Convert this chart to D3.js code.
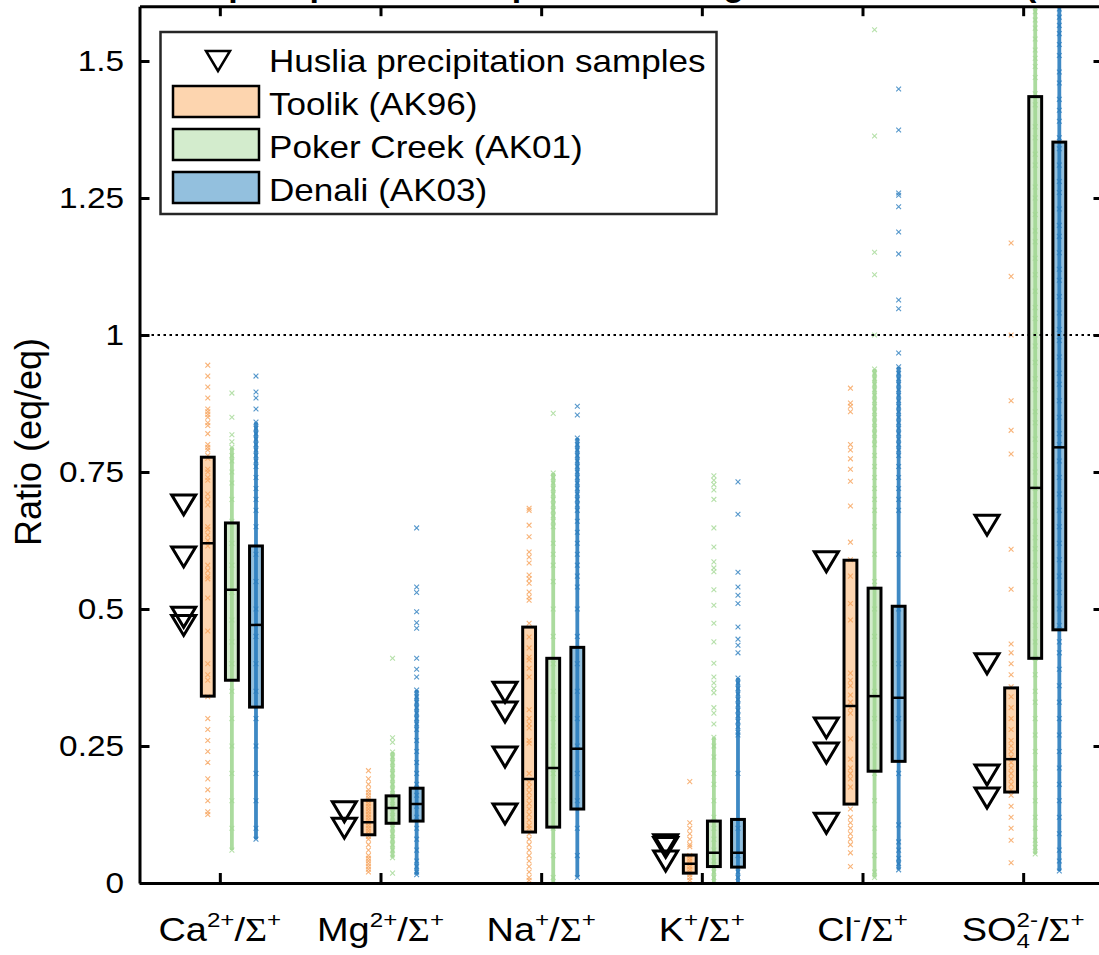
<!DOCTYPE html>
<html>
<head>
<meta charset="utf-8">
<script src="https://cdn.jsdelivr.net/npm/d3@7"></script>
<style>
  body { margin: 0; background: #fff; }
  svg { display: block; }
  text { font-family: "Liberation Sans", Arial, sans-serif; fill: #000; }
</style>
</head>
<body>
<svg width="1099" height="955"></svg>
<script>
// ---- data ----
var categories = ["Ca", "Mg", "Na", "K", "Cl", "SO4"];
var yTicks = [0, 0.25, 0.5, 0.75, 1, 1.25, 1.5];
var yTickLabels = ["0", "0.25", "0.5", "0.75", "1", "1.25", "1.5"];
var siteNames = ["Toolik (AK96)", "Poker Creek (AK01)", "Denali (AK03)"];

// Huslia precipitation samples (triangles)
var huslia = [
  [0.69, 0.595, 0.485, 0.47],
  [0.13, 0.10],
  [0.348, 0.312, 0.23, 0.126],
  [0.07, 0.065, 0.04],
  [0.586, 0.283, 0.237, 0.109],
  [0.653, 0.40, 0.197, 0.155]
];

// box statistics
var toolikQ1  = [0.341, 0.088, 0.093, 0.018, 0.144, 0.166];
var toolikMed = [0.62, 0.111, 0.19, 0.035, 0.323, 0.226];
var toolikQ3  = [0.777, 0.151, 0.467, 0.051, 0.589, 0.356];
var pokerQ1   = [0.37, 0.109, 0.102, 0.03, 0.204, 0.41];
var pokerMed  = [0.535, 0.137, 0.21, 0.055, 0.341, 0.721];
var pokerQ3   = [0.657, 0.159, 0.41, 0.113, 0.538, 1.435];
var denaliQ1  = [0.321, 0.113, 0.135, 0.029, 0.222, 0.462];
var denaliMed = [0.471, 0.144, 0.245, 0.055, 0.338, 0.795];
var denaliQ3  = [0.615, 0.173, 0.43, 0.116, 0.505, 1.352];

// ranges where samples are so dense they merge into a solid column
var pokerRange  = [[0.06, 0.795], [0.046, 0.239], [0.0, 0.748], [0.0, 0.266], [0.01, 0.938], [0.053, 1.6]];
var denaliRange = [[0.08, 0.841], [0.015, 0.352], [0.01, 0.812], [0.0, 0.374], [0.024, 0.942], [0.022, 1.6]];

// individual samples
var toolikPts = [
  [0.945, 0.925, 0.905, 0.885, 0.865, 0.86, 0.855, 0.85, 0.84, 0.835, 0.82, 0.80, 0.795, 0.79, 0.78, 0.775, 0.755, 0.75, 0.74, 0.735,
   0.71, 0.70, 0.69, 0.65, 0.645, 0.635, 0.625, 0.615, 0.58, 0.57, 0.56, 0.555, 0.52, 0.46, 0.40, 0.38, 0.37, 0.34, 0.30, 0.28,
   0.26, 0.24, 0.22, 0.19, 0.17, 0.15, 0.13, 0.125],
  [0.205, 0.19, 0.18, 0.17, 0.165, 0.16, 0.155, 0.15, 0.145, 0.14, 0.135, 0.13, 0.125, 0.12, 0.115, 0.11, 0.105, 0.10, 0.095, 0.09,
   0.085, 0.08, 0.07, 0.06, 0.05, 0.045, 0.04, 0.035, 0.03, 0.025, 0.02],
  [0.684, 0.68, 0.653, 0.632, 0.604, 0.595, 0.584, 0.562, 0.555, 0.547, 0.531, 0.522, 0.516, 0.474, 0.449, 0.429, 0.412, 0.407, 0.392, 0.376,
   0.316, 0.30, 0.29, 0.283, 0.26, 0.255, 0.2, 0.184, 0.175, 0.165, 0.155, 0.145, 0.135, 0.125, 0.115, 0.105, 0.1, 0.09, 0.08, 0.07,
   0.06, 0.05, 0.04, 0.03, 0.02, 0.01, 0.005],
  [0.185, 0.11, 0.10, 0.09, 0.08, 0.07, 0.066, 0.05, 0.045, 0.04, 0.035, 0.03, 0.025, 0.02, 0.015, 0.01, 0.005],
  [0.903, 0.876, 0.87, 0.86, 0.80, 0.79, 0.774, 0.755, 0.733, 0.688, 0.622, 0.59, 0.56, 0.51, 0.48, 0.383, 0.37, 0.36, 0.343, 0.33,
   0.32, 0.31, 0.263, 0.226, 0.21, 0.2, 0.19, 0.175, 0.135, 0.12, 0.11, 0.1, 0.09, 0.08, 0.07, 0.055, 0.03],
  [1.168, 1.107, 1.0, 0.88, 0.826, 0.783, 0.609, 0.536, 0.436, 0.42, 0.40, 0.38, 0.358, 0.34, 0.32, 0.30, 0.28, 0.26, 0.25, 0.24,
   0.23, 0.22, 0.21, 0.2, 0.19, 0.18, 0.17, 0.16, 0.14, 0.12, 0.1, 0.078, 0.037]
];
var pokerPts = [
  [0.894, 0.85, 0.818, 0.805, 0.795, 0.78, 0.77, 0.75, 0.73, 0.70, 0.66, 0.62, 0.58, 0.53, 0.48, 0.44, 0.40, 0.35, 0.30, 0.25,
   0.20, 0.15, 0.10, 0.06],
  [0.41, 0.265, 0.257, 0.239, 0.23, 0.22, 0.21, 0.2, 0.19, 0.18, 0.17, 0.16, 0.15, 0.14, 0.13, 0.12, 0.11, 0.1, 0.09, 0.08,
   0.07, 0.06, 0.046, 0.018],
  [0.857, 0.748, 0.74, 0.73, 0.72, 0.71, 0.70, 0.69, 0.68, 0.67, 0.66, 0.65, 0.62, 0.60, 0.58, 0.55, 0.5, 0.45, 0.4, 0.35,
   0.3, 0.25, 0.2, 0.15, 0.1, 0.05, 0.01],
  [0.743, 0.735, 0.727, 0.717, 0.70, 0.648, 0.613, 0.586, 0.575, 0.568, 0.535, 0.507, 0.474, 0.44, 0.401, 0.376, 0.365, 0.355, 0.347, 0.32,
   0.31, 0.29, 0.266, 0.25, 0.23, 0.2, 0.18, 0.15, 0.12, 0.1, 0.08, 0.06, 0.04, 0.02, 0.01],
  [1.557, 1.363, 1.151, 1.11, 1.0, 0.938, 0.93, 0.92, 0.91, 0.9, 0.89, 0.88, 0.87, 0.86, 0.85, 0.84, 0.83, 0.82, 0.81, 0.8,
   0.78, 0.76, 0.74, 0.72, 0.7, 0.68, 0.65, 0.6, 0.55, 0.5, 0.45, 0.4, 0.35, 0.3, 0.25, 0.2, 0.15, 0.1, 0.05, 0.02, 0.01],
  [1.59, 1.575, 1.56, 1.54, 1.52, 1.505, 1.49, 1.47, 1.44, 1.42, 1.38, 1.36, 1.33, 1.31, 1.27, 1.25, 1.22, 1.19, 1.17, 1.14,
   1.11, 1.08, 1.05, 1.03, 1.0, 0.98, 0.95, 0.92, 0.9, 0.86, 0.84, 0.81, 0.78, 0.75, 0.72, 0.69, 0.66, 0.63, 0.61, 0.58,
   0.55, 0.52, 0.5, 0.47, 0.44, 0.41, 0.38, 0.35, 0.33, 0.3, 0.27, 0.24, 0.21, 0.18, 0.15, 0.12, 0.1, 0.078, 0.065, 0.053]
];
var denaliPts = [
  [0.925, 0.896, 0.885, 0.865, 0.841, 0.83, 0.82, 0.81, 0.80, 0.79, 0.78, 0.77, 0.76, 0.74, 0.72, 0.70, 0.68, 0.65, 0.6, 0.55,
   0.5, 0.45, 0.4, 0.35, 0.3, 0.25, 0.2, 0.15, 0.1, 0.08],
  [0.648, 0.54, 0.53, 0.495, 0.475, 0.465, 0.41, 0.39, 0.376, 0.352, 0.34, 0.33, 0.32, 0.31, 0.30, 0.29, 0.28, 0.26, 0.24, 0.22,
   0.2, 0.18, 0.16, 0.14, 0.12, 0.1, 0.08, 0.06, 0.04, 0.03, 0.02, 0.015],
  [0.87, 0.854, 0.812, 0.80, 0.79, 0.78, 0.77, 0.76, 0.75, 0.74, 0.73, 0.72, 0.71, 0.70, 0.69, 0.68, 0.66, 0.64, 0.62, 0.6,
   0.58, 0.56, 0.54, 0.5, 0.45, 0.4, 0.35, 0.3, 0.25, 0.2, 0.15, 0.1, 0.05, 0.01],
  [0.732, 0.673, 0.567, 0.54, 0.525, 0.51, 0.467, 0.445, 0.434, 0.42, 0.374, 0.365, 0.355, 0.345, 0.335, 0.325, 0.315, 0.305, 0.295, 0.285,
   0.275, 0.27, 0.2, 0.1, 0.05, 0.02, 0.01],
  [1.449, 1.374, 1.259, 1.255, 1.234, 1.188, 1.148, 1.064, 1.048, 0.967, 0.942, 0.93, 0.92, 0.91, 0.9, 0.89, 0.88, 0.87, 0.86, 0.85,
   0.84, 0.83, 0.82, 0.81, 0.8, 0.79, 0.78, 0.76, 0.74, 0.72, 0.70, 0.68, 0.6, 0.5, 0.4, 0.3, 0.2, 0.106, 0.075, 0.06,
   0.045, 0.035, 0.024],
  [1.595, 1.58, 1.565, 1.55, 1.53, 1.51, 1.48, 1.46, 1.43, 1.41, 1.39, 1.36, 1.34, 1.31, 1.28, 1.26, 1.23, 1.2, 1.18, 1.15,
   1.12, 1.1, 1.07, 1.04, 1.01, 0.99, 0.96, 0.93, 0.91, 0.88, 0.85, 0.82, 0.8, 0.77, 0.74, 0.71, 0.68, 0.65, 0.62, 0.59,
   0.56, 0.53, 0.5, 0.47, 0.44, 0.42, 0.39, 0.36, 0.33, 0.3, 0.27, 0.24, 0.21, 0.18, 0.15, 0.12, 0.09, 0.06, 0.04, 0.022]
];

// category tick labels, built from pieces (sup/sub are small text)
var catLabels = [
  [{t: "Ca"}, {t: "2+", sup: true}, {t: "/"}, {t: "\u03A3", serif: true}, {t: "+", sup: true}],
  [{t: "Mg"}, {t: "2+", sup: true}, {t: "/"}, {t: "\u03A3", serif: true}, {t: "+", sup: true}],
  [{t: "Na"}, {t: "+", sup: true}, {t: "/"}, {t: "\u03A3", serif: true}, {t: "+", sup: true}],
  [{t: "K"}, {t: "+", sup: true}, {t: "/"}, {t: "\u03A3", serif: true}, {t: "+", sup: true}],
  [{t: "Cl"}, {t: "-", sup: true}, {t: "/"}, {t: "\u03A3", serif: true}, {t: "+", sup: true}],
  [{t: "SO"}, {t: "4", sub: true}, {t: "2-", sup: true, over: true}, {t: "/"}, {t: "\u03A3", serif: true}, {t: "+", sup: true}]
];

// ---- setup ----
var SX = 1.15;   // text in the reference is a bit wide
var svg = d3.select("svg");

var x = d3.scaleLinear().domain([0.5, 6.5]).range([139.5, 1103.5]);
var y = d3.scaleLinear().domain([0, 1.6]).range([883, 6.2]);

var sites = [
  {q1: toolikQ1, med: toolikMed, q3: toolikQ3, pts: toolikPts, range: null, off: -0.075, fill: "#FDD5AF", pt: "#F6A058"},
  {q1: pokerQ1, med: pokerMed, q3: pokerQ3, pts: pokerPts, range: pokerRange, off: 0.075, fill: "#D3ECCD", pt: "#A2D894"},
  {q1: denaliQ1, med: denaliMed, q3: denaliQ3, pts: denaliPts, range: denaliRange, off: 0.225, fill: "#93C0DE", pt: "#2A7DBE"}
];
var boxW = 0.08;
var huslOff = -0.225;

svg.append("clipPath").attr("id", "plotclip")
  .append("rect").attr("x", 139.5).attr("y", 6.2).attr("width", 964).attr("height", 877);

var plot = svg.append("g").attr("clip-path", "url(#plotclip)");

function stext(parent, px, py, str, size, anchor) {
  var g = parent.append("g").attr("transform", `translate(${px},${py}) scale(${SX},1)`);
  g.append("text").attr("text-anchor", anchor).attr("font-size", size).text(str);
  return g;
}

// box fills
sites.forEach(function(s) {
  plot.selectAll(null).data(categories).enter().append("rect")
    .attr("x", (d, i) => x(i + 1 + s.off - boxW / 2))
    .attr("width", x(boxW) - x(0))
    .attr("y", (d, i) => y(s.q3[i]))
    .attr("height", (d, i) => y(s.q1[i]) - y(s.q3[i]))
    .attr("fill", s.fill);
});

// dense sample columns
sites.forEach(function(s) {
  if (!s.range) return;
  plot.selectAll(null).data(s.range).enter().append("line")
    .attr("x1", (d, i) => x(i + 1 + s.off))
    .attr("x2", (d, i) => x(i + 1 + s.off))
    .attr("y1", d => y(d[0]))
    .attr("y2", d => y(d[1]))
    .attr("stroke", s.pt)
    .attr("stroke-width", 3.8)
    .attr("opacity", 0.9);
});

// sample markers (x)
var xMark = "M-2.4,-2.4L2.4,2.4M-2.4,2.4L2.4,-2.4";
sites.forEach(function(s) {
  s.pts.forEach(function(vals, i) {
    plot.selectAll(null).data(vals).enter().append("path")
      .attr("d", xMark)
      .attr("transform", d => `translate(${x(i + 1 + s.off)},${y(d)})`)
      .attr("fill", "none")
      .attr("stroke", s.pt)
      .attr("stroke-width", 1.1)
      .attr("opacity", 0.8);
  });
});

// reference line at ratio = 1
plot.append("line")
  .attr("x1", x(0.5)).attr("x2", x(6.5))
  .attr("y1", y(1)).attr("y2", y(1))
  .attr("stroke", "#000").attr("stroke-width", 2.2)
  .attr("stroke-dasharray", "2.5,3.5");

// box outlines and medians
sites.forEach(function(s) {
  plot.selectAll(null).data(categories).enter().append("rect")
    .attr("x", (d, i) => x(i + 1 + s.off - boxW / 2))
    .attr("width", x(boxW) - x(0))
    .attr("y", (d, i) => y(s.q3[i]))
    .attr("height", (d, i) => y(s.q1[i]) - y(s.q3[i]))
    .attr("fill", "none")
    .attr("stroke", "#000")
    .attr("stroke-width", 3);
  plot.selectAll(null).data(s.med).enter().append("line")
    .attr("x1", (d, i) => x(i + 1 + s.off - boxW / 2))
    .attr("x2", (d, i) => x(i + 1 + s.off + boxW / 2))
    .attr("y1", d => y(d)).attr("y2", d => y(d))
    .attr("stroke", "#000")
    .attr("stroke-width", 2.5);
});

// Huslia triangles
var tri = "M-12,-10L12,-10L0,10Z";
huslia.forEach(function(vals, i) {
  plot.selectAll(null).data(vals).enter().append("path")
    .attr("d", tri)
    .attr("transform", d => `translate(${x(i + 1 + huslOff)},${y(d)})`)
    .attr("fill", "none")
    .attr("stroke", "#000")
    .attr("stroke-width", 3)
    .attr("stroke-linejoin", "miter");
});

// ---- axes ----
var axisW = 3;
var gl = svg.append("g").attr("transform", `translate(${x(0.5)},0)`)
  .call(d3.axisLeft(y).tickValues(yTicks).tickSize(-10).tickSizeOuter(0).tickFormat(""));
var gr = svg.append("g").attr("transform", `translate(${x(6.5)},0)`)
  .call(d3.axisRight(y).tickValues(yTicks).tickSize(-10).tickSizeOuter(0).tickFormat(""));
var gb = svg.append("g").attr("transform", `translate(0,${y(0)})`)
  .call(d3.axisBottom(x).tickValues(d3.range(1, 7)).tickSize(-10).tickSizeOuter(0).tickFormat(""));
var gt = svg.append("g").attr("transform", `translate(0,${y(1.6)})`)
  .call(d3.axisTop(x).tickValues(d3.range(1, 7)).tickSize(-10).tickSizeOuter(0).tickFormat(""));
[gl, gr, gb, gt].forEach(function(g) {
  g.selectAll("path.domain").attr("stroke", "#000").attr("stroke-width", axisW);
  g.selectAll(".tick line").attr("stroke", "#000").attr("stroke-width", axisW);
});

// y tick labels
yTicks.forEach(function(v, i) {
  stext(svg, 124, y(v) + 10, yTickLabels[i], 29, "end");
});

// y axis title
svg.append("text")
  .attr("transform", `translate(41,442) rotate(-90)`)
  .attr("text-anchor", "middle")
  .attr("font-size", 36)
  .text("Ratio (eq/eq)");

// category labels
catLabels.forEach(function(pieces, i) {
  var g = svg.append("g").attr("transform", `translate(${x(i + 1)},941) scale(${SX},1)`);
  var inner = g.append("g");
  var cur = 0, subX = 0;
  pieces.forEach(function(p) {
    var small = p.sup || p.sub;
    var px = p.over ? subX : cur;
    var t = inner.append("text")
      .attr("x", px)
      .attr("y", p.sup ? -14 : (p.sub ? 7 : 0))
      .attr("font-size", small ? 21 : 33)
      .text(p.t);
    if (p.serif) t.style("font-family", "'Liberation Serif', 'Times New Roman', serif");
    var w = t.node().getComputedTextLength();
    if (p.sub) subX = cur;
    cur = Math.max(cur, px + w);
  });
  inner.attr("transform", `translate(${-cur / 2},0)`);
});

// title (only its lowest strokes fall inside the picture)
svg.append("text")
  .attr("x", 620).attr("y", -4)
  .attr("text-anchor", "middle")
  .attr("font-size", 34).attr("font-weight", "bold")
  .text("Huslia precipitation compared with regional NADP sites (2019)");

// ---- legend ----
var leg = svg.append("g");
leg.append("rect")
  .attr("x", 160.5).attr("y", 32).attr("width", 556).attr("height", 182)
  .attr("fill", "#fff").attr("stroke", "#262626").attr("stroke-width", 2.5);
var rowBase = [72, 115, 158, 201];
leg.append("path").attr("d", tri)
  .attr("transform", `translate(218,61)`)
  .attr("fill", "none").attr("stroke", "#000").attr("stroke-width", 2.5);
stext(leg, 269, rowBase[0], "Huslia precipitation samples", 30.5, "start");
sites.forEach(function(s, k) {
  leg.append("rect")
    .attr("x", 173).attr("y", rowBase[k + 1] - 29)
    .attr("width", 86).attr("height", 31)
    .attr("fill", s.fill).attr("stroke", "#000").attr("stroke-width", 2.5);
  stext(leg, 269, rowBase[k + 1], siteNames[k], 30.5, "start");
});
</script>
</body>
</html>
